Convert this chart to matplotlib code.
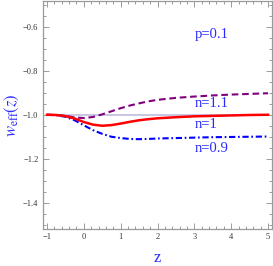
import numpy as np
import matplotlib
matplotlib.use("Agg")
import matplotlib.pyplot as plt

# redshift samples
z = [-1.0, -0.75, -0.5, -0.25, 0.0, 0.25, 0.5, 0.75, 1.0, 1.25, 1.5, 1.75,
     2.0, 2.5, 3.0, 3.5, 4.0, 4.5, 5.0]

# w_eff(z) for the three values of n
w_n1 = [-1.0, -1.001, -1.006, -1.017, -1.033, -1.045, -1.050, -1.047, -1.040,
        -1.032, -1.025, -1.020, -1.016, -1.011, -1.007, -1.005, -1.003, -1.001, -1.000]
w_n11 = [-1.0, -1.001, -1.005, -1.012, -1.015, -1.010, -0.998, -0.984, -0.970,
         -0.958, -0.948, -0.939, -0.932, -0.923, -0.917, -0.912, -0.908, -0.905, -0.902]
w_n09 = [-1.0, -1.002, -1.009, -1.025, -1.048, -1.070, -1.087, -1.100, -1.106,
         -1.110, -1.111, -1.110, -1.108, -1.106, -1.104, -1.102, -1.101, -1.100, -1.099]

w_lambda = -1.0
labels = ["n=1.1", "n=1", "n=0.9"]
label_y = [-0.965, -1.062, -1.171]

plt.rcParams['font.family'] = ['Liberation Serif', 'DejaVu Serif']
plt.rcParams['mathtext.fontset'] = 'stix'

fig = plt.figure(figsize=(2.73, 2.66), dpi=100)
ax = fig.add_axes([0.156, 0.139, 0.842, 0.859])

frame = '#9a9a9a'
ax.plot([z[0], z[-1]], [w_lambda, w_lambda], color='#b8b8dc', lw=1.1, zorder=1)
ax.plot(z, w_n11, color='#800080', lw=1.5, dashes=(3.2, 1.8), zorder=2)
ax.plot(z, w_n09, color='#0000ff', lw=1.5, dashes=(3.0, 1.3, 0.8, 1.3), zorder=2)
ax.plot(z, w_n1, color='#ff0000', lw=1.8, zorder=3)

ax.text(3.0, -0.652, "p=0.1", color='#2a2aff', fontsize=10.5, va='baseline')
for s, yy in zip(labels, label_y):
    ax.text(3.0, yy, s, color='#2a2aff', fontsize=10.5, va='baseline')

ax.set_xlim(-1.12, 5.12)
ax.set_ylim(-1.52, -0.48)
ax.set_xticks(np.arange(-1, 6, 1))
ax.set_xticks(np.arange(-1, 5.01, 0.2), minor=True)
ax.set_yticks([-1.4, -1.2, -1.0, -0.8, -0.6])
ax.set_yticks(np.arange(-1.5, -0.49, 0.05), minor=True)
ax.set_xticklabels(["\u22121", "0", "1", "2", "3", "4", "5"])
ax.set_yticklabels(["\u22121.4", "\u22121.2", "\u22121.0", "\u22120.8", "\u22120.6"])

ax.tick_params(which='both', direction='in', top=True, right=True, color=frame,
               width=0.7, labelsize=6, labelcolor='#333333')
ax.tick_params(which='major', length=4, pad=3)
ax.tick_params(which='minor', length=2)
for sp in ax.spines.values():
    sp.set_color(frame)
    sp.set_linewidth(0.9)

ax.set_ylabel(r"$w_{\rm eff}(z)$", color='#2a2aff', fontsize=12)
ax.yaxis.set_label_coords(-0.095, 0.5)
ax.set_xlabel("z", color='#2a2aff', fontsize=12)
ax.xaxis.set_label_coords(0.5, -0.09)

fig.savefig("out.png", dpi=100)
